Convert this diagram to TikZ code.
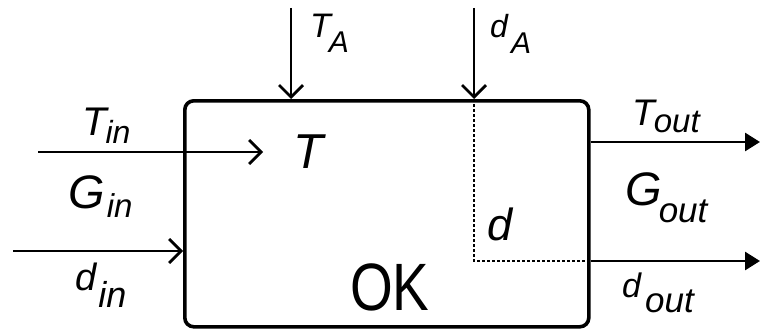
\documentclass[tikz,border=0pt]{standalone}
\usepackage{fontspec}
\setmainfont{Liberation Sans}
\usetikzlibrary{arrows.meta}
\newcommand\fs[1]{\fontsize{#1}{#1}\selectfont}
\newcommand\lowsub[3]{\raisebox{-#1pt}{\fs{#2}#3}}
\begin{document}
\begin{tikzpicture}[x=1pt,y=-1pt,
  box/.style={draw, line width=3.6pt, rounded corners=9pt, inner sep=0pt},
  conn/.style={line width=2.8pt},
  inarrow/.style={conn, -{Straight Barb[length=12pt,width=24pt]}},
  outarrow/.style={conn, -{Triangle[length=15pt,width=18pt]}},
  dashline/.style={densely dashed, line width=1.3pt},
  lbl/.style={anchor=base west, inner sep=0pt, font=\itshape}]
\useasboundingbox (0,0) rectangle (760,329);
\node[box, minimum width=404pt, minimum height=226pt, anchor=north west] (ok) at (183,99) {};
% coordinates
\coordinate (ta) at (291,8);
\coordinate (da) at (474,8);
\coordinate (dc) at (474,261);
\coordinate (tin) at (38,152);
\coordinate (tinend) at (263,152);
\coordinate (din) at (13,251);
\coordinate (toutend) at (760,142);
\coordinate (doutend) at (760,261);
% arrows
\draw[inarrow] (ta) -- (ta |- ok.north);
\draw[inarrow] (da) -- (da |- ok.north);
\draw[dashline] (da |- ok.north) -- (dc) -- (dc -| ok.east);
\draw[inarrow] (tin) -- (tinend);
\draw[inarrow] (din) -- (din -| ok.west);
\draw[outarrow] (toutend -| ok.east) -- (toutend);
\draw[outarrow] (doutend -| ok.east) -- (doutend);
% labels
\node[lbl] (lta) at (310,38) {\fs{34}T\kern-2pt\lowsub{14}{30}{A}};
\node[lbl] (lda) at (490,38) {\fs{32}d\kern3pt\lowsub{16}{30}{A}};
\node[lbl] (ltin) at (82,135) {\fs{40}T\kern-1pt\lowsub{8}{32}{in}};
\node[lbl] (lgin) at (68,208) {\fs{47}G\kern2pt\lowsub{9}{33}{in}};
\node[lbl] (ldin) at (75,290) {\fs{38}d\kern2pt\lowsub{17}{36}{in}};
\node[lbl] (lt) at (293,168) {\fs{49}T};
\node[lbl] (ld) at (487,240) {\fs{45}d};
\node[anchor=base west, inner sep=0pt] (lok) at (350,310) {\fs{67}\scalebox{0.82}[1]{OK}};
\node[lbl] (ltout) at (632,125) {\fs{37}T\kern-1pt\lowsub{7}{33}{out}};
\node[lbl] (lgout) at (625,205) {\fs{47}G\kern-3pt\lowsub{17}{35}{out}};
\node[lbl] (ldout) at (622,297) {\fs{34}d\kern4pt\lowsub{15}{35}{out}};
\end{tikzpicture}
\end{document}
